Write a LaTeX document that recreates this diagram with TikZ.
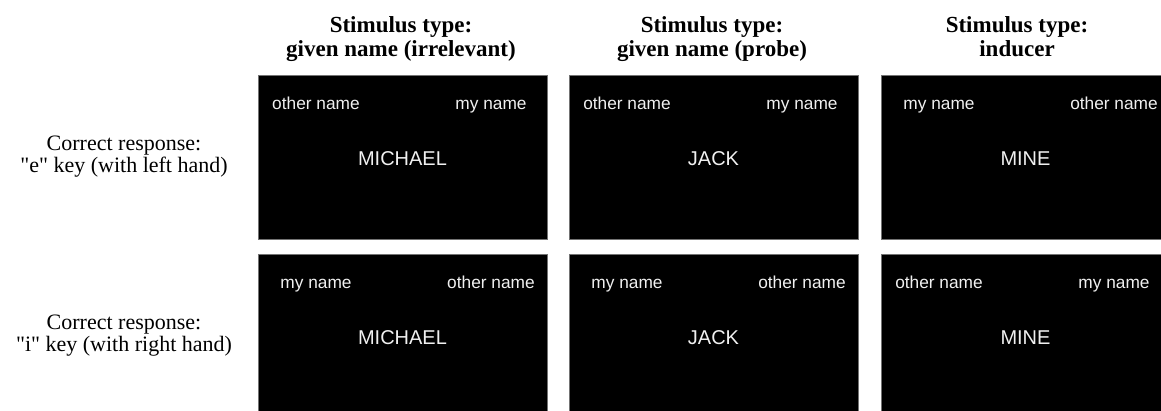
\documentclass[tikz,border=0pt]{standalone}
\usepackage{fontspec}
\setmainfont{Liberation Serif}[Ligatures=TeXOff]
\newfontfamily\screenfont{Liberation Sans}
\begin{document}
\begin{tikzpicture}[x=1pt,y=-1pt,
  panel/.style={fill=black, draw=black!55, line width=0.6pt,
    minimum width=289pt, minimum height=164pt, inner sep=0pt, anchor=north west},
  corner/.style={text=white!94!black, font=\screenfont\fontsize{17.3}{18}\selectfont,
    anchor=base, inner sep=0pt},
  word/.style={text=white!94!black, font=\screenfont\fontsize{20}{22}\selectfont,
    anchor=base, inner sep=0pt},
  head/.style={font=\bfseries\fontsize{23}{24}\selectfont, anchor=base, inner sep=0pt},
  resp/.style={font=\fontsize{22}{22}\selectfont, anchor=base, inner sep=0pt}]
\useasboundingbox (0,0) rectangle (1161,410);
\clip (0,0) rectangle (1161,410);

% column headings
\node[head] (h1a) at (401,32) {Stimulus type:};
\node[head] (h1b) at (401,56) {given name (irrelevant)};
\node[head] (h2a) at (712,32) {Stimulus type:};
\node[head] (h2b) at (712,56) {given name (probe)};
\node[head] (h3a) at (1017,32) {Stimulus type:};
\node[head] (h3b) at (1017,56) {inducer};

% row labels
\node[resp] (r1a) at (124,150) {Correct response:};
\node[resp] (r1b) at (124,172) {"e" key (with left hand)};
\node[resp] (r2a) at (124,329) {Correct response:};
\node[resp] (r2b) at (124,351) {"i" key (with right hand)};

% screens with the centre stimulus
\foreach \r/\T in {1/75, 2/254} {
  \foreach \c/\L/\w in {1/258/MICHAEL, 2/569/JACK, 3/881/MINE} {
    \node[panel] (p\r\c) at (\L,\T) {};
    \node[word] (w\r\c) at (\L+144.5,\T+90) {\w};
  }
}

% response labels, top row
\node[corner] (a11) at (316,109) {other name};
\node[corner] (b11) at (491,109) {my name};
\node[corner] (a12) at (627,109) {other name};
\node[corner] (b12) at (802,109) {my name};
\node[corner] (a13) at (939,109) {my name};
\node[corner] (b13) at (1114,109) {other name};

% response labels, bottom row
\node[corner] (a21) at (316,288) {my name};
\node[corner] (b21) at (491,288) {other name};
\node[corner] (a22) at (627,288) {my name};
\node[corner] (b22) at (802,288) {other name};
\node[corner] (a23) at (939,288) {other name};
\node[corner] (b23) at (1114,288) {my name};
\end{tikzpicture}
\end{document}
